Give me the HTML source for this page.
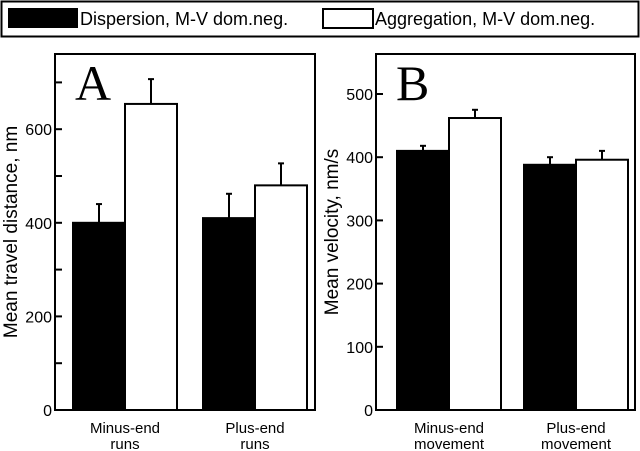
<!DOCTYPE html>
<html><head><meta charset="utf-8"><style>
body{margin:0;background:#fff}
svg{display:block;font-family:"Liberation Sans",Arial,sans-serif}
</style></head><body>
<svg id="c" width="640" height="451" viewBox="0 0 640 451">
<g>
<rect x="1.5" y="1.5" width="637" height="35" fill="#fff" stroke="#000" stroke-width="2"/>
<rect x="8" y="8" width="70" height="20" fill="#000"/>
<text x="80" y="25" font-size="18">Dispersion, M-V dom.neg.</text>
<rect x="323" y="9" width="50" height="19" fill="#fff" stroke="#000" stroke-width="2"/>
<text x="375" y="25" font-size="18">Aggregation, M-V dom.neg.</text>
</g>
</svg>
<script>
const catsA=["Minus-end|runs","Plus-end|runs"];
const dispA=[400,410];
const dispErrA=[440,462];
const aggA=[654,480];
const aggErrA=[707,527];
const ticksA=[0,200,400,600];
const minorA=[100,300,500,700];
const catsB=["Minus-end|movement","Plus-end|movement"];
const dispB=[410,388];
const dispErrB=[418,400];
const aggB=[462,396];
const aggErrB=[475,410];
const ticksB=[0,100,200,300,400,500];
const minorB=[];
const svg=document.getElementById('c');
const NS='http://www.w3.org/2000/svg';
function mk(t,a,p){const e=document.createElementNS(NS,t);for(const k in a)e.setAttribute(k,a[k]);(p||svg).appendChild(e);return e;}
function panel(o){
  const g=mk('g',{});
  
  
  const y=v=>o.bottom-(v-0)*o.k;
  const box=mk('rect',{x:o.left,y:o.top,width:o.right-o.left,height:o.bottom-o.top,fill:'none',stroke:'#000','stroke-width':2},g);
  
  
  o.ticks.forEach(t=>{
    const l=mk('line',{x1:o.left,x2:o.left+7,y1:y(t),y2:y(t),stroke:'#000','stroke-width':2},g);
    
    
    const tx=mk('text',{x:o.left-3,y:y(t)+6,'font-size':16,'text-anchor':'end'},g);
    tx.textContent=t;
    
    
  });
  o.minor.forEach(t=>{
    const l=mk('line',{x1:o.left,x2:o.left+7,y1:y(t),y2:y(t),stroke:'#000','stroke-width':2},g);
    
    
  });
  const bw=o.bw;
  o.cats.forEach((c,i)=>{
    const x0=o.x0[i];
    [[o.disp,o.dErr,'#000','dispersion'],[o.agg,o.aErr,'#fff','aggregation']].forEach((s,j)=>{
      const xs=x0+j*bw, cx=xs+bw/2;
      const e=mk('line',{x1:cx,x2:cx,y1:y(s[0][i]),y2:y(s[1][i]),stroke:'#000','stroke-width':2},g);
      
      
      const cap=mk('line',{x1:cx-3,x2:cx+3,y1:y(s[1][i]),y2:y(s[1][i]),stroke:'#000','stroke-width':2},g);
      
      
      const r=mk('rect',{x:xs,y:y(s[0][i]),width:bw,height:o.bottom-y(s[0][i]),fill:s[2],stroke:'#000','stroke-width':2},g);
      
      
    });
    c.split('|').forEach((ln,k)=>{
      const t=mk('text',{x:x0+bw,y:433+k*16,'font-size':15,'text-anchor':'middle'},g);
      t.textContent=ln;
      
      
    });
  });
  const L=mk('text',{x:o.left+20,y:100,'font-size':50,'font-family':'"Liberation Serif",serif'},g);
  L.textContent=o.letter;
  
  
  const yt=mk('text',{x:0,y:0,'font-size':19,'text-anchor':'middle',transform:`translate(${o.ylx},${(o.top+o.bottom)/2}) rotate(-90)`},g);
  yt.textContent=o.ylabel;
  
  
}
panel({letter:'A',left:55,right:315,top:54,bottom:410,k:0.468,ticks:ticksA,minor:minorA,cats:catsA,disp:dispA,dErr:dispErrA,agg:aggA,aErr:aggErrA,x0:[73,203],bw:52,ylabel:'Mean travel distance, nm',ylx:17});
panel({letter:'B',left:376,right:635,top:54,bottom:410,k:0.632,ticks:ticksB,minor:minorB,cats:catsB,disp:dispB,dErr:dispErrB,agg:aggB,aErr:aggErrB,x0:[397,524],bw:52,ylabel:'Mean velocity, nm/s',ylx:338});
</script>
</body></html>
